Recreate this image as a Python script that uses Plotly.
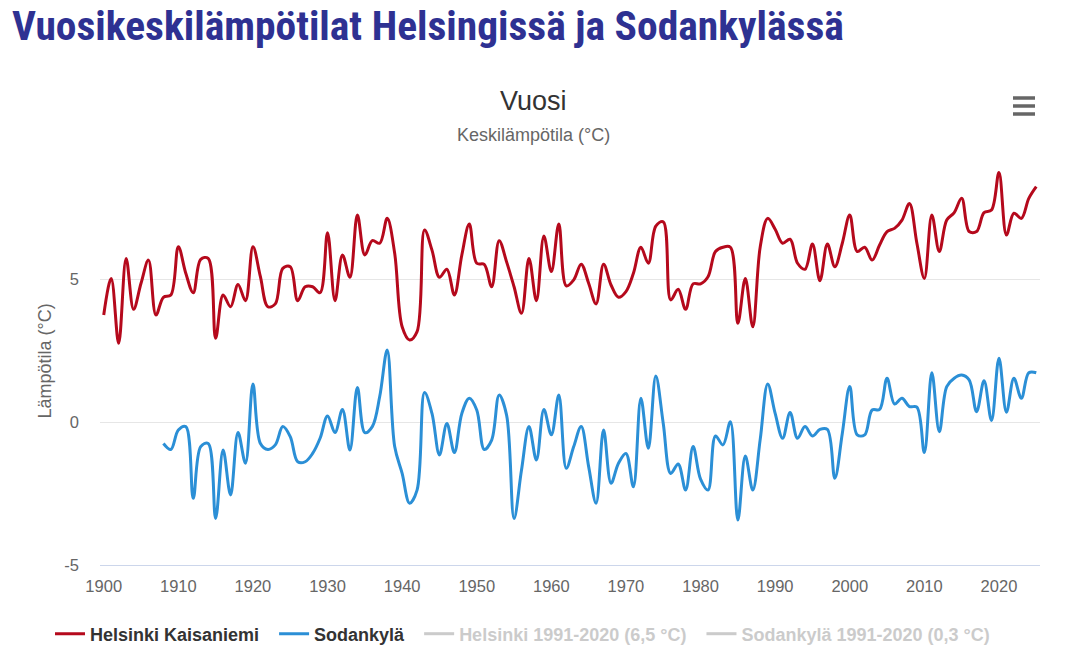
import plotly.graph_objects as go

# ---------------- data ----------------
years_helsinki = list(range(1900, 2026))
helsinki = [
    3.74, 5.02, 2.75, 5.72, 3.94, 4.85, 5.66, 3.74, 4.36, 4.44,
    6.13, 5.20, 4.52, 5.69, 5.72, 2.93, 4.44, 4.03, 4.81, 4.24,
    6.13, 5.08, 4.03, 4.13, 5.37, 5.43, 4.24, 4.73, 4.73, 4.52,
    6.62, 4.24, 5.84, 5.06, 7.24, 5.84, 6.34, 6.25, 7.12, 5.90,
    3.33, 2.87, 3.16, 6.71, 6.01, 5.06, 5.34, 4.44, 5.84, 6.92,
    5.55, 5.51, 4.73, 6.34, 5.60, 4.73, 3.80, 5.72, 4.24, 6.50,
    5.26, 6.92, 4.76, 4.97, 5.52, 4.85, 4.13, 5.52, 4.79, 4.36,
    4.56, 5.20, 6.11, 5.55, 6.85, 7.00, 4.27, 4.64, 3.94, 4.83,
    4.83, 5.08, 5.96, 6.11, 6.11, 3.45, 5.02, 3.33, 6.13, 7.12,
    6.74, 6.25, 6.39, 5.55, 5.34, 6.22, 4.94, 6.22, 5.43, 6.25,
    7.24, 5.96, 6.11, 5.66, 6.19, 6.66, 6.77, 7.06, 7.64, 6.25,
    5.02, 7.24, 5.96, 7.06, 7.32, 7.82, 6.66, 6.66, 7.32, 7.41,
    8.72, 6.54, 7.30, 7.12, 7.82, 8.23,
]

years_sodankyla = list(range(1908, 2026))
sodankyla = [
    -0.75, -0.96,
    -0.28, -0.16, -2.67, -0.86, -0.75, -3.37, -0.98, -2.55, -0.37, -1.44,
    1.33, -0.75, -0.96, -0.80, -0.16, -0.51, -1.39, -1.39, -1.10, -0.57,
    0.21, -0.37, 0.44, -0.98, 1.21, -0.37, -0.16, 0.90, 2.52, -0.86,
    -1.80, -2.84, -2.38, 1.03, 0.30, -1.15, -0.05, -1.07, 0.30, 0.83,
    0.42, -0.96, -0.63, 0.94, 0.24, -3.37, -1.68, -0.16, -1.33, 0.44,
    -0.45, 0.94, -1.62, -0.86, -0.16, -1.56, -2.84, -0.28, -2.14, -1.44,
    -1.10, -2.26, 0.83, -0.92, 1.61, -0.05, -1.80, -1.47, -2.38, -0.86,
    -2.00, -2.38, -0.49, -0.80, 0.01, -3.43, -1.19, -2.38, -0.60, 1.33,
    0.30, -0.57, 0.33, -0.57, -0.16, -0.49, -0.26, -0.26, -1.97, -0.40,
    1.24, -0.45, -0.45, 0.42, 0.44, 1.53, 0.63, 0.83, 0.54, 0.52,
    -1.07, 1.72, -0.34, 1.24, 1.53, 1.64, 1.47, 0.36, 1.44, 0.05,
    2.23, 0.34, 1.53, 0.83, 1.72, 1.72,
]

normal_years = [1991, 2020]
helsinki_normal = 6.5
sodankyla_normal = 0.3

x_ticks = list(range(1900, 2021, 10))
y_ticks = [-5, 0, 5]
y_tick_labels = ["-5", "0", "5"]

heading = "Vuosikeskilämpötilat Helsingissä ja Sodankylässä"
chart_title = "Vuosi"
chart_subtitle = "Keskilämpötila (°C)"
y_title = "Lämpötila (°C)"
series_names = ["Helsinki Kaisaniemi", "Sodankylä",
                "Helsinki 1991-2020 (6,5 °C)", "Sodankylä 1991-2020 (0,3 °C)"]

# ---------------- styles ----------------
RED = "#b5091c"
BLUE = "#2b8fd6"
BASE_FONT = "Liberation Sans, Arial, sans-serif"
HEAD_FONT = "Roboto Condensed, Noto Sans Condensed, Liberation Sans Narrow, Arial Narrow, Roboto, sans-serif"
PAD = "&nbsp;&nbsp;"

fig = go.Figure()
fig.add_trace(go.Scatter(
    x=years_helsinki, y=helsinki, name=series_names[0] + PAD, mode="lines",
    line=dict(color=RED, width=3, shape="spline", smoothing=1.0),
))
fig.add_trace(go.Scatter(
    x=years_sodankyla, y=sodankyla, name=series_names[1] + PAD, mode="lines",
    line=dict(color=BLUE, width=3, shape="spline", smoothing=1.0),
))
fig.add_trace(go.Scatter(
    x=normal_years, y=[helsinki_normal] * len(normal_years),
    name='<span style="color:#999999">' + series_names[2] + "</span>" + PAD,
    mode="lines", visible="legendonly", line=dict(color="#999999", width=3),
))
fig.add_trace(go.Scatter(
    x=normal_years, y=[sodankyla_normal] * len(normal_years),
    name='<span style="color:#999999">' + series_names[3] + "</span>",
    mode="lines", visible="legendonly", line=dict(color="#999999", width=3),
))

W, H = 1067, 659
L, R, T, B = 100, 27, 157, 94
pw, ph = W - L - R, H - T - B
Y_MAX = -5 + ph / 28.6


def px(xp):
    return (xp - L) / pw


def py(yp):
    return (H - B - yp) / ph


fig.update_layout(
    width=W, height=H, autosize=False,
    margin=dict(l=L, r=R, t=T, b=B, pad=0, autoexpand=False),
    paper_bgcolor="white", plot_bgcolor="white",
    font=dict(family=BASE_FONT, color="#666666"),
    title=dict(
        text="<b>" + heading + "</b>",
        x=12 / W, xanchor="left", xref="container",
        y=1 - 25 / H, yanchor="middle", yref="container",
        font=dict(family=HEAD_FONT, size=41.5, color="#2e3192"),
    ),
    xaxis=dict(
        range=[1899.5, 2025.5], tickvals=x_ticks, showgrid=False,
        zeroline=False, showline=True, linecolor="#ccd6eb", linewidth=1,
        ticks="", tickfont=dict(size=16.5, color="#666666"),
        ticklabelstandoff=6, fixedrange=True,
    ),
    yaxis=dict(
        range=[-5, Y_MAX], tickvals=y_ticks, ticktext=y_tick_labels,
        showgrid=True, gridcolor="#e6e6e6",
        gridwidth=1, zeroline=False, showline=False, ticks="",
        tickfont=dict(size=16.5, color="#666666"), ticklabelstandoff=20,
        title=dict(text=y_title, font=dict(size=18, color="#666666"), standoff=8),
        fixedrange=True,
    ),
    showlegend=True,
    legend=dict(
        orientation="h", xref="container", yref="container",
        x=50 / W, xanchor="left", y=1 - 634 / H, yanchor="middle",
        font=dict(family=BASE_FONT, size=18, color="#333333", weight="bold"),
        bgcolor="rgba(0,0,0,0)", itemclick=False, itemdoubleclick=False,
        tracegroupgap=0,
    ),
    annotations=[
        dict(text=chart_title, xref="paper", yref="paper", x=px(533.5), y=py(101),
             xanchor="center", yanchor="middle", showarrow=False,
             font=dict(size=27, color="#333333")),
        dict(text=chart_subtitle, xref="paper", yref="paper", x=px(533.5), y=py(135),
             xanchor="center", yanchor="middle", showarrow=False,
             font=dict(size=18, color="#666666")),
    ],
    shapes=[
        dict(type="line", xref="paper", yref="paper",
             x0=px(1013), x1=px(1035), y0=py(yy), y1=py(yy),
             line=dict(color="#666666", width=3.5))
        for yy in (98, 106, 114)
    ],
)

fig.write_html("out.html", config={"displayModeBar": False})
